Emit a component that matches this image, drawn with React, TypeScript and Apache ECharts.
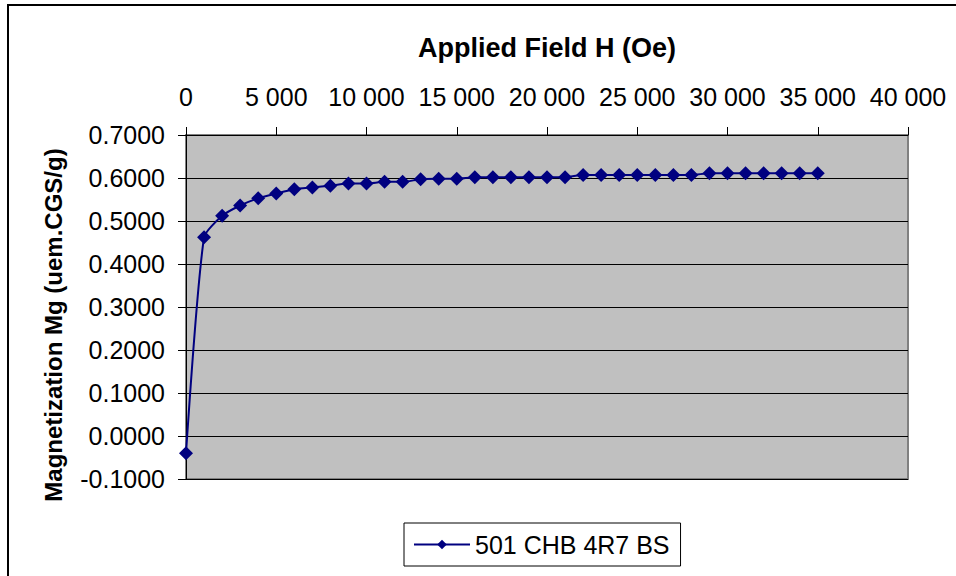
import React, { useEffect, useRef } from "react";
import * as echarts from "echarts";

const fieldH = [
  0, 1000, 2000, 3000, 4000, 5000, 6000, 7000, 8000, 9000, 10000, 11000, 12000,
  13000, 14000, 15000, 16000, 17000, 18000, 19000, 20000, 21000, 22000, 23000,
  24000, 25000, 26000, 27000, 28000, 29000, 30000, 31000, 32000, 33000, 34000,
  35000,
];
const magnetization = [
  -0.04, 0.462, 0.512, 0.536, 0.553, 0.564, 0.574, 0.578, 0.582, 0.587, 0.587,
  0.591, 0.591, 0.597, 0.598, 0.598, 0.602, 0.602, 0.602, 0.602, 0.602, 0.602,
  0.607, 0.607, 0.607, 0.607, 0.607, 0.607, 0.607, 0.611, 0.611, 0.611, 0.611,
  0.611, 0.611, 0.611,
];
const seriesName = "501 CHB 4R7 BS";
const xTitle = "Applied Field H (Oe)";
const yTitle = "Magnetization Mg (uem.CGS/g)";

const FONT = "Liberation Sans, Arial, sans-serif";

export default function App() {
  const ref = useRef<HTMLDivElement>(null);
  useEffect(() => {
    if (!ref.current) return;
    const chart = echarts.init(ref.current, undefined, { renderer: "svg" });
    const data = fieldH.map((h, i) => [h, magnetization[i]]);
    chart.setOption({
      animation: false,
      backgroundColor: "#ffffff",
      textStyle: { fontFamily: FONT },
      grid: {
        left: 186,
        top: 135,
        width: 722,
        height: 344,
        show: true,
        backgroundColor: "#C0C0C0",
        borderColor: "#808080",
        borderWidth: 2,
        containLabel: false,
      },
      xAxis: {
        type: "value",
        position: "top",
        min: 0,
        max: 40000,
        interval: 5000,
        axisLine: { show: true, onZero: false, lineStyle: { color: "#000", width: 1 } },
        axisTick: { show: true, inside: false, length: 8, lineStyle: { color: "#000" } },
        splitLine: { show: false },
        axisLabel: {
          margin: 26,
          fontSize: 25,
          color: "#000",
          fontFamily: FONT,
          formatter: (v: number) =>
            String(Math.round(v)).replace(/\B(?=(\d{3})+(?!\d))/g, " "),
        },
      },
      yAxis: {
        type: "value",
        min: -0.1,
        max: 0.7,
        interval: 0.1,
        axisLine: { show: true, onZero: false, lineStyle: { color: "#000", width: 1 } },
        axisTick: { show: true, inside: false, length: 8, lineStyle: { color: "#000" } },
        splitLine: { show: true, lineStyle: { color: "#000", width: 1 } },
        axisLabel: {
          margin: 21,
          fontSize: 25,
          color: "#000",
          fontFamily: FONT,
          formatter: (v: number) => v.toFixed(4),
        },
      },
      legend: {
        show: true,
        left: 404,
        top: 523,
        orient: "horizontal",
        borderColor: "#000",
        borderWidth: 1,
        backgroundColor: "#fff",
        padding: [9, 11, 9, 9],
        itemWidth: 56,
        itemHeight: 12,
        itemGap: 6,
        textStyle: { fontSize: 25, color: "#000", fontFamily: FONT },
        data: [seriesName],
      },
      series: [
        {
          name: seriesName,
          type: "line",
          data,
          smooth: 0.2,
          symbol: "diamond",
          symbolSize: 14,
          lineStyle: { color: "#000080", width: 2 },
          itemStyle: { color: "#000080" },
        },
      ],
      graphic: [
        {
          type: "rect",
          shape: { x: 8, y: 5, width: 1000, height: 700 },
          style: { fill: "none", stroke: "#000", lineWidth: 2 },
          z: 100,
        },
        {
          type: "text",
          x: 547,
          y: 48,
          style: {
            text: xTitle,
            fontSize: 27,
            fontWeight: "bold",
            fontFamily: FONT,
            fill: "#000",
            align: "center",
            verticalAlign: "middle",
          },
        },
        {
          type: "text",
          x: 53,
          y: 325,
          rotation: Math.PI / 2,
          style: {
            text: yTitle,
            fontSize: 24,
            fontWeight: "bold",
            fontFamily: FONT,
            fill: "#000",
            align: "center",
            verticalAlign: "middle",
          },
        },
      ],
    });
    return () => chart.dispose();
  }, []);
  return (
    <div
      ref={ref}
      style={{ position: "fixed", left: 0, top: 0, width: 956, height: 576 }}
    />
  );
}
